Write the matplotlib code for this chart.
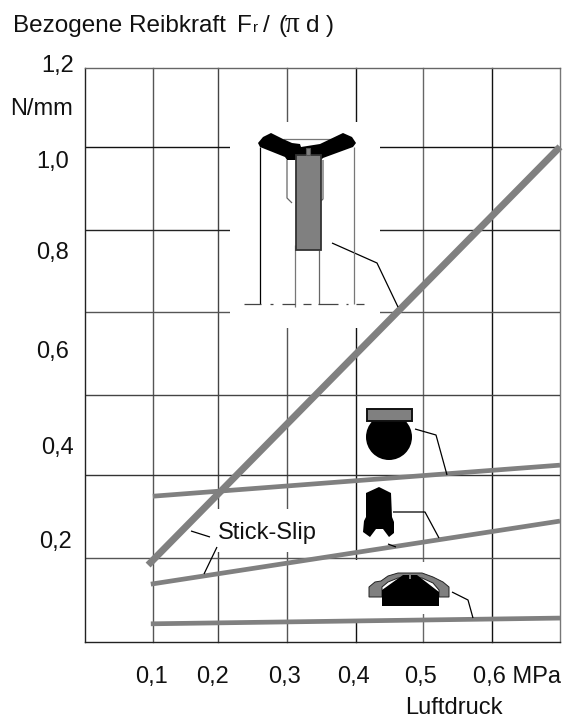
import matplotlib
matplotlib.use('Agg')
import matplotlib.pyplot as plt
from matplotlib.patches import Polygon, Rectangle, Circle

plt.rcParams['font.family'] = ['Liberation Sans', 'DejaVu Sans']

W, H = 565, 719

# readings, y axis is 0..1.2 over the full frame
druck_a = [0.093, 0.7]
druck_b = [0.1, 0.7]
druck_c = [0.097, 0.7]
druck_d = [0.097, 0.7]
linie_a = [0.160, 1.035]
linie_b = [0.304, 0.369]
linie_c = [0.120, 0.252]
linie_d = [0.037, 0.049]

x_labels = ['0,1', '0,2', '0,3', '0,4', '0,5', '0,6 MPa']
x_label_px = [135, 196, 268, 337, 404, 473]
# the printed labels do not sit on the grid lines
y_labels = ['1,2', '1,0', '0,8', '0,6', '0,4', '0,2']
y_label_px = [74, 69, 69, 69, 74, 72]
y_label_base = [72, 168, 259, 358, 454, 548]
# the grid of the original is not quite even
grid_y = [0.175, 0.348, 0.516, 0.689, 0.862, 1.035]
grid_y_col = ['#555555', '#333333', '#444444', '#555555', '#222222', '#111111']
grid_x = [0.1, 0.196, 0.298, 0.399, 0.498, 0.6, 0.7]
grid_x_col = ['#555555', '#444444', '#555555', '#111111', '#666666', '#111111', '#777777']

GRAU = '#808080'
FS = 17

fig = plt.figure(figsize=(W / 100, H / 100), dpi=100)
ax = fig.add_axes([85 / W, 1 - 641.5 / H, (560 - 85) / W, (641.5 - 68) / H])
ax.set_xlim(0, 0.7)
ax.set_ylim(0, 1.2)
ax.spines['right'].set_visible(False)
ax.spines['left'].set_linewidth(1.0)
ax.spines['bottom'].set_linewidth(1.0)
ax.spines['left'].set_color('#222222')
ax.spines['bottom'].set_color('#222222')
ax.spines['top'].set_linewidth(1.0)
ax.spines['top'].set_color('#666666')
ax.set_xticks([])
ax.set_yticks([])

for g, c in zip(grid_x, grid_x_col):
    ax.axvline(g, color=c, lw=1.0, zorder=1, clip_on=False)
for g, c in zip(grid_y, grid_y_col):
    ax.axhline(g, color=c, lw=1.0, zorder=1)

# pixel coordinate layer for the drawings
pix = fig.add_axes([0, 0, 1, 1], facecolor='none')
pix.set_xlim(0, W)
pix.set_ylim(H, 0)
pix.axis('off')

# white gaps in the grid
for x0, y0, x1, y1 in [(230, 122, 380, 328), (212, 509, 320, 552), (415, 562, 432, 614), (350, 559.5, 362, 620)]:
    ax.add_patch(Rectangle((x0, y0), x1 - x0, y1 - y0, transform=pix.transData, fc='white', ec='none', zorder=2))

ax.plot(druck_a, linie_a, color=GRAU, lw=5.0, solid_capstyle='butt', zorder=3, clip_on=False)
ax.plot(druck_b, linie_b, color=GRAU, lw=3.4, solid_capstyle='butt', zorder=3, clip_on=False)
ax.plot(druck_c, linie_c, color=GRAU, lw=3.4, solid_capstyle='butt', zorder=3, clip_on=False)
ax.plot(druck_d, linie_d, color=GRAU, lw=3.4, solid_capstyle='butt', zorder=3, clip_on=False)

for px, l in zip(x_label_px, x_labels):
    pix.text(px, 683, l, fontsize=FS, ha='left', va='baseline', color='#111111')
for px, py, l in zip(y_label_px, y_label_base, y_labels):
    pix.text(px, py, l, fontsize=FS, ha='right', va='baseline', color='#111111')
pix.text(10, 115, 'N/mm', fontsize=FS, ha='left', va='baseline', color='#111111')
pix.text(405, 714, 'Luftdruck', fontsize=FS, ha='left', va='baseline', color='#111111')
pix.text(218, 539, 'Stick-Slip', fontsize=FS, ha='left', va='baseline', color='#111111')

# title is set piece by piece, small r and a serif pi
pix.text(13, 32, 'Bezogene Reibkraft', fontsize=17.5, ha='left', va='baseline', color='#111111')
pix.text(237, 32, 'F', fontsize=17.5, ha='left', va='baseline', color='#111111')
pix.text(253, 32, 'r', fontsize=11, ha='left', va='baseline', color='#111111')
pix.text(263, 32, '/', fontsize=17.5, ha='left', va='baseline', color='#111111')
pix.text(279, 32, '(', fontsize=17.5, ha='left', va='baseline', color='#111111')
pix.text(285, 32, '\u03c0', fontsize=21, family='Liberation Serif', ha='left', va='baseline', color='#111111')
pix.text(306, 32, 'd', fontsize=17.5, ha='left', va='baseline', color='#111111')
pix.text(326, 32, ')', fontsize=17.5, ha='left', va='baseline', color='#111111')


def linie(xs, ys, c='black', lw=0.9):
    pix.plot(xs, ys, color=c, lw=lw, solid_capstyle='butt')


# leader lines
linie([332, 377, 398], [243, 263, 307])
linie([415, 436, 447], [429, 435, 475])
linie([393, 425, 439], [512, 512, 538])
linie([388, 396], [544, 547])
linie([452, 468, 473], [592, 600, 618])
linie([191, 210], [531, 537])
linie([217, 204], [547, 574])

# seal 1, top
linie([283, 337], [139, 139], c='#777777')
pix.add_patch(Polygon([(258, 143), (263, 137), (271, 133), (283, 139), (292, 143), (300, 144), (301, 147), (320, 144), (343, 133), (352, 137), (356, 143), (353, 147),
                       (323, 158), (321, 160), (295, 160), (287, 160), (285, 157), (260, 147)],
                      fc='black', ec='none', zorder=5))
pix.add_patch(Rectangle((296, 155), 25, 95, fc=GRAU, ec='#333333', lw=1.3, zorder=6))
pix.add_patch(Rectangle((306, 148), 4, 7, fc=GRAU, ec='#555555', lw=0.8, zorder=6))
linie([260, 260], [147, 304])
linie([354, 354], [147, 304], c='#777777')
linie([295, 295], [245, 307], c='#777777')
linie([319, 319], [250, 304], c='#666666')
linie([287, 287, 292], [160, 198, 203], c='#666666')
linie([323, 323, 321], [160, 199, 201], c='#666666')
# centre line
for x0, x1 in [(244, 261), (270, 273), (282, 295), (303, 311), (318, 338), (346, 348), (356, 364)]:
    linie([x0, x1], [304, 304], c='#444444')

# seal 2, O-ring
pix.add_patch(Circle((389, 437), 23, fc='black', ec='none', zorder=4))
pix.add_patch(Rectangle((367, 409), 45, 12, fc=GRAU, ec='#111111', lw=1.4, zorder=5))

# seal 3, lip
pix.add_patch(Polygon([(366, 493), (379, 487), (391, 493), (392, 517), (394, 522), (394, 533), (389, 537), (383, 529), (376, 529), (370, 537), (363, 532), (364, 521), (366, 517)],
                      fc='black', ec='none', zorder=5))

# seal 4, bottom
pix.add_patch(Polygon([(369, 597), (369, 587), (375, 582), (381, 581), (388, 576), (398, 573), (422, 573), (433, 577), (443, 582), (449, 587), (449, 597), (439, 597), (439, 590), (433, 583), (422, 578), (398, 578), (388, 582), (382, 587), (382, 597)],
                      fc=GRAU, ec='#222222', lw=0.7, zorder=4))
pix.add_patch(Polygon([(382, 606), (382, 590), (403, 575), (417, 575), (439, 592), (439, 606)], fc='black', ec='none', zorder=5))
pix.add_patch(Rectangle((409, 575), 2, 4, fc=GRAU, ec='none', zorder=6))

fig.savefig('out.png', dpi=100)
